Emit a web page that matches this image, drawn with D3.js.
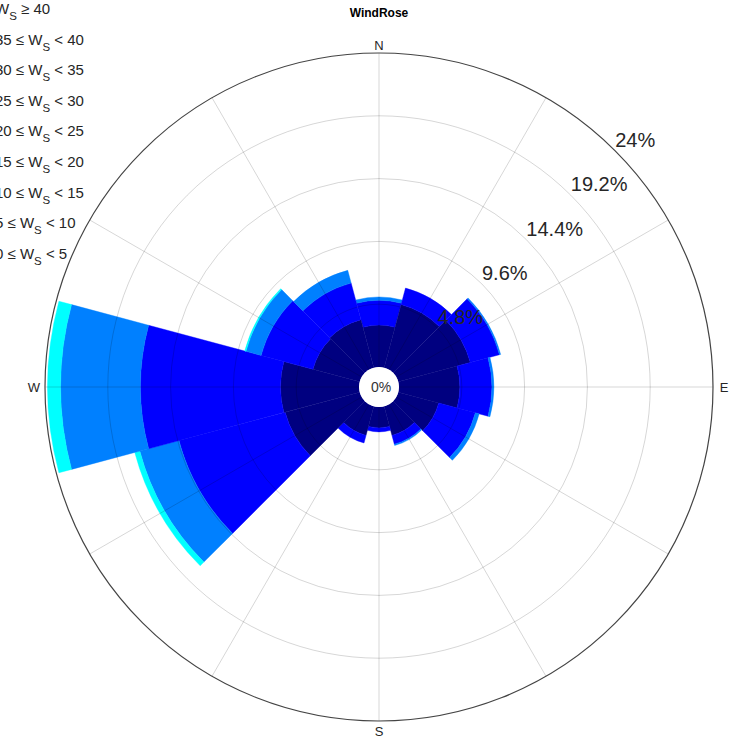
<!DOCTYPE html>
<html>
<head>
<meta charset="utf-8">
<script src="https://cdn.jsdelivr.net/npm/d3@7"></script>
<style>
  html, body { margin: 0; padding: 0; background: #fff; }
  svg { display: block; font-family: "Liberation Sans", Arial, sans-serif; }
</style>
</head>
<body>
<svg id="chart" width="735" height="738"></svg>
<script>
// ---- data ----
const directions = [0, 30, 60, 90, 120, 150, 180, 210, 240, 270, 300, 330];
const directionLabels = ["N", "E", "S", "W"];
const binLabels = [
  ["0 ≤ W", "S", " < 5"],
  ["5 ≤ W", "S", " < 10"],
  ["10 ≤ W", "S", " < 15"],
  ["15 ≤ W", "S", " < 20"],
  ["20 ≤ W", "S", " < 25"],
  ["25 ≤ W", "S", " < 30"],
  ["30 ≤ W", "S", " < 35"],
  ["35 ≤ W", "S", " < 40"],
  ["W", "S", " ≥ 40"]
];
const binColors = ["#000080", "#0000FF", "#0080FF", "#00FFFF", "#80FF80", "#FFFF00", "#FF8000", "#FF0000", "#800000"];
// frequency (%) per direction for each speed bin
const bin0to5   = [3.2, 5.0, 5.7, 4.65, 3.2, 2.3, 1.6, 2.3, 5.9, 6.0, 3.7, 3.8];
const bin5to10  = [1.9, 1.3, 2.3, 2.45, 2.9, 0.7, 0.3, 0.6, 8.4, 10.7, 4.1, 2.9];
const bin10to15 = [0.25, 0, 0.1, 0.15, 0.3, 0.1, 0, 0, 3.1, 6.1, 1.2, 1.0];
const bin15to20 = [0, 0, 0, 0, 0, 0, 0, 0, 0.4, 1.0, 0.1, 0];
const bin20to25 = [0, 0, 0, 0, 0, 0, 0, 0, 0, 0, 0, 0];
const bin25to30 = [0, 0, 0, 0, 0, 0, 0, 0, 0, 0, 0, 0];
const bin30to35 = [0, 0, 0, 0, 0, 0, 0, 0, 0, 0, 0, 0];
const bin35to40 = [0, 0, 0, 0, 0, 0, 0, 0, 0, 0, 0, 0];
const bin40up   = [0, 0, 0, 0, 0, 0, 0, 0, 0, 0, 0, 0];
const ringTicks = [4.8, 9.6, 14.4, 19.2, 24];
const maxFreq = 24;

const bins = [bin0to5, bin5to10, bin10to15, bin15to20, bin20to25, bin25to30, bin30to35, bin35to40, bin40up];

// ---- layout ----
const svg = d3.select("#chart");
const cx = 379, cy = 387;
const r0 = 20, R = 334;
const rScale = d3.scaleLinear().domain([0, maxFreq]).range([r0, R]);
const sectorHalf = 15 * Math.PI / 180;
const toRad = d => d * Math.PI / 180;

const g = svg.append("g").attr("transform", `translate(${cx},${cy})`);

// stacked wedges
const arc = d3.arc();
const stacked = [];
directions.forEach((dir, i) => {
  let cum = 0;
  bins.forEach((b, k) => {
    const v = b[i];
    if (v > 0) {
      stacked.push({ dir, k, lo: cum, hi: cum + v });
    }
    cum += v;
  });
});
g.append("g").selectAll("path")
  .data(stacked)
  .join("path")
  .attr("d", d => arc({
    innerRadius: rScale(d.lo),
    outerRadius: rScale(d.hi),
    startAngle: toRad(d.dir) - sectorHalf,
    endAngle: toRad(d.dir) + sectorHalf
  }))
  .attr("fill", d => binColors[d.k])
  .attr("stroke", d => binColors[d.k])
  .attr("stroke-width", 0.4);

// grid
const grid = g.append("g");
grid.selectAll("circle.ring")
  .data(ringTicks.slice(0, -1))
  .join("circle")
  .attr("r", d => rScale(d))
  .attr("fill", "none")
  .attr("stroke", "#000")
  .attr("stroke-opacity", 0.16)
  .attr("stroke-width", 1);
const spokes = d3.range(0, 360, 30);
grid.selectAll("line")
  .data(spokes)
  .join("line")
  .attr("x1", d => r0 * Math.sin(toRad(d)))
  .attr("y1", d => -r0 * Math.cos(toRad(d)))
  .attr("x2", d => R * Math.sin(toRad(d)))
  .attr("y2", d => -R * Math.cos(toRad(d)))
  .attr("stroke", "#000")
  .attr("stroke-opacity", 0.16)
  .attr("stroke-width", 1);
grid.append("circle")
  .attr("r", R)
  .attr("fill", "none")
  .attr("stroke", "#444")
  .attr("stroke-width", 1.2);

// center hole
g.append("circle").attr("r", r0).attr("fill", "#fff");
g.append("text")
  .attr("x", 2).attr("y", 0)
  .attr("text-anchor", "middle")
  .attr("dominant-baseline", "central")
  .attr("font-size", 14)
  .attr("fill", "#333")
  .text("0%");

// ring labels (at 45°)
g.append("g").selectAll("text")
  .data(ringTicks)
  .join("text")
  .attr("x", d => rScale(d) * Math.sin(toRad(45)))
  .attr("y", d => -rScale(d) * Math.cos(toRad(45)) - 4)
  .attr("font-size", 20)
  .attr("fill", "#262626")
  .text(d => d + "%");

// direction labels
const dirPos = [
  { t: directionLabels[0], x: 0, y: -342 },
  { t: directionLabels[1], x: 345, y: 0 },
  { t: directionLabels[2], x: 0, y: 344 },
  { t: directionLabels[3], x: -345, y: 0 }
];
g.append("g").selectAll("text")
  .data(dirPos)
  .join("text")
  .attr("x", d => d.x).attr("y", d => d.y)
  .attr("text-anchor", "middle")
  .attr("dominant-baseline", "central")
  .attr("font-size", 13)
  .attr("fill", "#262626")
  .text(d => d.t);

// title
svg.append("text")
  .attr("x", cx).attr("y", 13)
  .attr("text-anchor", "middle")
  .attr("dominant-baseline", "central")
  .attr("font-size", 12)
  .attr("font-weight", "bold")
  .attr("fill", "#000")
  .text("WindRose");

// legend (the reference shows it clipped at the left edge)
const legendOrder = d3.range(binLabels.length).reverse();
const leg = svg.append("g");
legendOrder.forEach((k, row) => {
  const y = 14 + row * 30.6;
  leg.append("rect")
    .attr("x", -40).attr("y", y - 10)
    .attr("width", 20).attr("height", 12)
    .attr("fill", binColors[k]);
  const t = leg.append("text")
    .attr("x", -5)
    .attr("y", y)
    .attr("font-size", 15)
    .attr("fill", "#262626");
  const parts = binLabels[k];
  t.append("tspan").text(parts[0]);
  t.append("tspan").attr("dy", 6).attr("font-size", 11.5).text(parts[1]);
  t.append("tspan").attr("dy", -6).text(parts[2]);
});
</script>
</body>
</html>
